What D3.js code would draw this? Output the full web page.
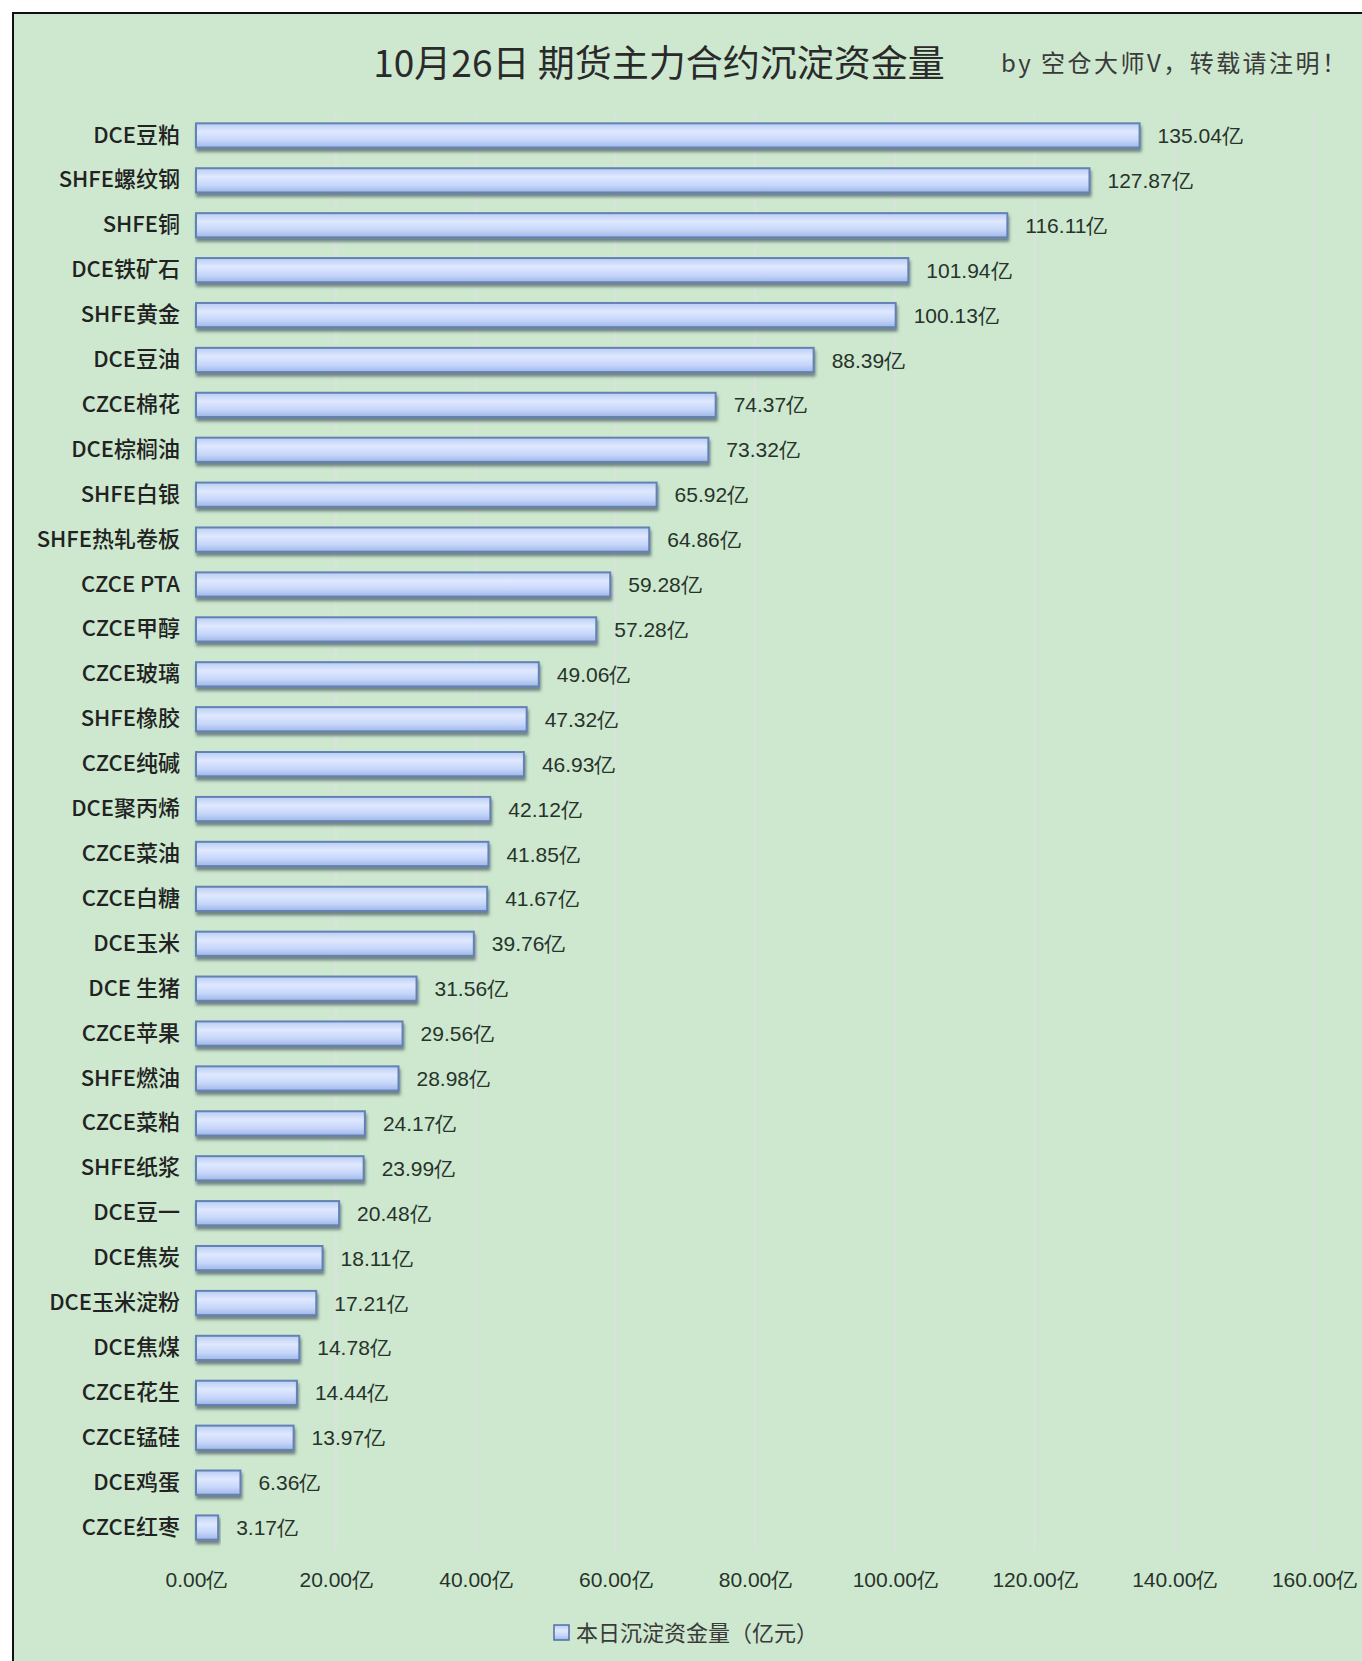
<!DOCTYPE html>
<html>
<head>
<meta charset="utf-8">
<script src="https://cdn.jsdelivr.net/npm/d3@7"></script>
<style>
  body { margin: 0; background: #fff; }
  svg { display: block; }
</style>
</head>
<body>
<svg id="chart" width="1362" height="1661"></svg>
<script>
// Data (top to bottom)
var categories = ["DCE豆粕", "SHFE螺纹钢", "SHFE铜", "DCE铁矿石", "SHFE黄金", "DCE豆油",
  "CZCE棉花", "DCE棕榈油", "SHFE白银", "SHFE热轧卷板", "CZCE PTA", "CZCE甲醇",
  "CZCE玻璃", "SHFE橡胶", "CZCE纯碱", "DCE聚丙烯", "CZCE菜油", "CZCE白糖",
  "DCE玉米", "DCE 生猪", "CZCE苹果", "SHFE燃油", "CZCE菜粕", "SHFE纸浆",
  "DCE豆一", "DCE焦炭", "DCE玉米淀粉", "DCE焦煤", "CZCE花生", "CZCE锰硅",
  "DCE鸡蛋", "CZCE红枣"];
var values = [135.04, 127.87, 116.11, 101.94, 100.13, 88.39,
  74.37, 73.32, 65.92, 64.86, 59.28, 57.28,
  49.06, 47.32, 46.93, 42.12, 41.85, 41.67,
  39.76, 31.56, 29.56, 28.98, 24.17, 23.99,
  20.48, 18.11, 17.21, 14.78, 14.44, 13.97,
  6.36, 3.17];
var xTicks = [0, 20, 40, 60, 80, 100, 120, 140, 160];
var titleText = "10月26日 期货主力合约沉淀资金量";
var subText = "by 空仓大师V，转载请注明！";
var legendText = "本日沉淀资金量（亿元）";

var data = categories.map(function(c, i) { return {name: c, value: values[i]}; });

var svg = d3.select("#chart");
var sans = "'Noto Sans CJK SC', 'Noto Sans', sans-serif";
var narrow = "'Liberation Sans Narrow', 'Liberation Sans', sans-serif";

// defs: bar gradient + shadow
var defs = svg.append("defs");
var grad = defs.append("linearGradient")
  .attr("id", "barGrad").attr("x1", 0).attr("y1", 0).attr("x2", 0).attr("y2", 1);
grad.append("stop").attr("offset", "0%").attr("stop-color", "#b9cdf3");
grad.append("stop").attr("offset", "35%").attr("stop-color", "#dfe8ff");
grad.append("stop").attr("offset", "70%").attr("stop-color", "#c6d6fa");
grad.append("stop").attr("offset", "100%").attr("stop-color", "#9fb6e6");

var shadow = defs.append("filter").attr("id", "shadow")
  .attr("x", "-5%").attr("y", "-30%").attr("width", "115%").attr("height", "200%");
shadow.append("feDropShadow")
  .attr("dx", 1).attr("dy", 3.5).attr("stdDeviation", 1.8)
  .attr("flood-color", "#3e4e58").attr("flood-opacity", 0.65);

// frame and background
svg.append("rect")
  .attr("x", 13).attr("y", 13).attr("width", 1362).attr("height", 1661)
  .attr("fill", "#cde8cf").attr("stroke", "#111").attr("stroke-width", 2);

// scales
var xscale = d3.scaleLinear().domain([0, 160]).range([196, 1314]);
var yscale = d3.scaleBand().domain(categories).range([113, 1550]).paddingInner(0.46).paddingOuter(0.23);

// faint vertical gridlines
svg.append("g").selectAll("line")
  .data(xTicks.slice(1))
  .enter().append("line")
  .attr("x1", function(d) { return xscale(d); })
  .attr("x2", function(d) { return xscale(d); })
  .attr("y1", 113).attr("y2", 1550)
  .attr("stroke", "#d6e4da").attr("stroke-width", 3);

// title
svg.append("text")
  .attr("x", 659).attr("y", 77)
  .attr("text-anchor", "middle")
  .style("font-family", sans).style("font-size", "37px")
  .style("fill", "#2a2a2a")
  .text(titleText);
svg.append("text")
  .attr("x", 1001).attr("y", 72)
  .attr("textLength", 345).attr("lengthAdjust", "spacing")
  .style("font-family", sans).style("font-size", "24px")
  .style("fill", "#3a3a3a")
  .text(subText);

// category axis (labels only)
var yAxis = svg.append("g")
  .attr("transform", "translate(196,0)")
  .call(d3.axisLeft(yscale).tickSize(0).tickPadding(16));
yAxis.select(".domain").remove();
yAxis.selectAll("text")
  .style("font-family", sans).style("font-size", "22px")
  .style("fill", "#222").style("font-weight", 500);

// x axis (labels only)
var xAxis = svg.append("g")
  .attr("transform", "translate(0,1572)")
  .call(d3.axisBottom(xscale).tickValues(xTicks).tickSize(0).tickPadding(0)
    .tickFormat(function(d) { return d.toFixed(2) + "亿"; }));
xAxis.select(".domain").remove();
xAxis.selectAll("text")
  .style("font-family", narrow)
  .style("font-size", "21px").style("fill", "#27332a");

// bars
svg.append("g").selectAll("rect")
  .data(data)
  .enter().append("rect")
  .attr("x", xscale(0))
  .attr("y", function(d) { return yscale(d.name); })
  .attr("width", function(d) { return xscale(d.value) - xscale(0); })
  .attr("height", yscale.bandwidth())
  .attr("fill", "url(#barGrad)")
  .attr("stroke", "#6482b4").attr("stroke-width", 2)
  .attr("filter", "url(#shadow)");

// value labels
svg.append("g").selectAll("text")
  .data(data)
  .enter().append("text")
  .attr("x", function(d) { return xscale(d.value) + 18; })
  .attr("y", function(d) { return yscale(d.name) + yscale.bandwidth() / 2; })
  .attr("dy", "0.36em")
  .style("font-family", narrow)
  .style("font-size", "21px").style("fill", "#27332a")
  .text(function(d) { return d.value.toFixed(2) + "亿"; });

// legend
var legend = svg.append("g").attr("transform", "translate(554,1633)");
legend.append("rect")
  .attr("x", 0).attr("y", -8).attr("width", 15).attr("height", 15)
  .attr("fill", "url(#barGrad)").attr("stroke", "#4f6fa5").attr("stroke-width", 1.5);
legend.append("text")
  .attr("x", 22).attr("y", 0).attr("dy", "0.35em")
  .attr("textLength", 242).attr("lengthAdjust", "spacing")
  .style("font-family", sans).style("font-size", "22px")
  .style("fill", "#3a3a3a")
  .text(legendText);
</script>
</body>
</html>
